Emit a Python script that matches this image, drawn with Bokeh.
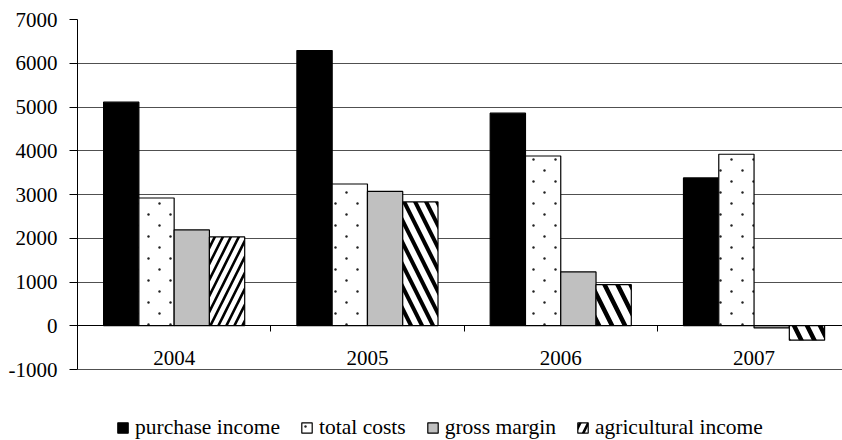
from bokeh.plotting import figure
from bokeh.models import (Range1d, FixedTicker, LinearAxis, Legend, LegendItem,
                          ColumnDataSource, ImageURLTexture)
from bokeh.core.properties import value
from bokeh.transform import dodge
from bokeh.embed import file_html
from bokeh.resources import INLINE

# ---- data ----
years = ["2004", "2005", "2006", "2007"]
purchase_income = [5110, 6290, 4860, 3380]
total_costs = [2920, 3240, 3880, 3920]
gross_margin = [2190, 3070, 1230, -50]
agricultural_income = [2030, 2830, 940, -330]
series_names = ["purchase income", "total costs", "gross margin", "agricultural income"]
y_ticks = [-1000, 0, 1000, 2000, 3000, 4000, 5000, 6000, 7000]

# ---- styles ----
FONT = "Liberation Serif"
agri_hatch = ["/", "\\", "\\", "\\"]
agri_scale = [16, 22, 26, 26]
agri_weight = [2.6, 4, 4.5, 4.5]

W, H = 842, 440
LEFT, TOP = 77, 19
PX_PER_UNIT = 350 / (y_ticks[-1] - y_ticks[0])
CAT_PX = 193.3
x_end = (W - LEFT) / CAT_PX
y_start = y_ticks[-1] - (H - TOP) / PX_PER_UNIT

centers = [i + 0.5 for i in range(len(years))]
src = ColumnDataSource(dict(
    x=centers, pi=purchase_income, tc=total_costs, gm=gross_margin, ai=agricultural_income,
    hp=agri_hatch, hs=agri_scale, hw=agri_weight,
))

p = figure(width=W, height=H, output_backend="svg", toolbar_location=None,
           x_range=Range1d(0, x_end), y_range=Range1d(y_start, y_ticks[-1]),
           min_border_left=LEFT, min_border_right=0, min_border_top=TOP,
           min_border_bottom=0)
p.outline_line_color = None
p.background_fill_color = "white"
p.border_fill_color = "white"
p.xgrid.visible = False
p.ygrid.ticker = FixedTicker(ticks=y_ticks)
p.ygrid.grid_line_color = "#505050"
p.ygrid.grid_line_width = 1

ya = p.yaxis[0]
ya.ticker = FixedTicker(ticks=y_ticks)
ya.bounds = (y_ticks[0], y_ticks[-1])
ya.major_label_overrides = {t: str(t) for t in y_ticks}
ya.axis_line_color = "black"
ya.major_tick_line_color = "black"
ya.major_tick_out = 8
ya.major_tick_in = 0
ya.minor_tick_line_color = None
ya.major_label_standoff = 12
ya.major_label_text_font = FONT
ya.major_label_text_font_size = "21px"
ya.major_label_text_color = "black"

# default x axis -> category labels, placed at zero
xa = p.xaxis[0]
xa.ticker = FixedTicker(ticks=centers)
xa.major_label_overrides = {c: y for c, y in zip(centers, years)}
xa.fixed_location = 0
xa.axis_line_color = None
xa.major_tick_out = 0
xa.major_tick_in = 0
xa.minor_tick_line_color = None
xa.major_label_standoff = 25
xa.major_label_text_font = FONT
xa.major_label_text_font_size = "21px"
xa.major_label_text_color = "black"

dot_tile = ("data:image/svg+xml;utf8,<svg xmlns='http://www.w3.org/2000/svg' width='22' height='22'>"
            "<rect width='22' height='22' fill='white'/>"
            "<circle cx='5.5' cy='5.5' r='1.2' fill='%23222222'/>"
            "<circle cx='16.5' cy='16.5' r='1.2' fill='%23222222'/></svg>")
dots = ImageURLTexture(url=dot_tile, repetition="repeat")

BW = 0.1825
offs = [-1.5 * BW, -0.5 * BW, 0.5 * BW, 1.5 * BW]

r1 = p.vbar(x=dodge("x", offs[0], range=p.x_range), top="pi", bottom=0, width=BW, source=src,
            fill_color="black", line_color="black", line_width=1.2)
r2 = p.vbar(x=dodge("x", offs[1], range=p.x_range), top="tc", bottom=0, width=BW, source=src,
            fill_color="white", line_color="black", line_width=1.2,
            hatch_pattern=value("dots"), hatch_extra={"dots": dots},
            hatch_color="#222222", hatch_scale=22, hatch_weight=1.1)
r3 = p.vbar(x=dodge("x", offs[2], range=p.x_range), top="gm", bottom=0, width=BW, source=src,
            fill_color="#c0c0c0", line_color="black", line_width=1.2)
r4 = p.vbar(x=dodge("x", offs[3], range=p.x_range), top="ai", bottom=0, width=BW, source=src,
            fill_color="white", line_color="black", line_width=1.2,
            hatch_pattern="hp", hatch_color="black", hatch_scale="hs", hatch_weight="hw")

bounds = [i for i in range(1, len(years))]
tick_axis = LinearAxis(ticker=FixedTicker(ticks=bounds), fixed_location=0,
                       axis_line_color="black", major_tick_line_color="black",
                       major_tick_out=6, major_tick_in=0, minor_tick_line_color=None,
                       major_label_overrides={b: "" for b in bounds})
p.add_layout(tick_axis, "below")

legend = Legend(items=[LegendItem(label=n, renderers=[r], index=0)
                       for n, r in zip(series_names, [r1, r2, r3, r4])],
                orientation="horizontal", location=(39, 0), padding=0, margin=0,
                spacing=20, label_standoff=6, glyph_width=13, glyph_height=13,
                label_height=20, label_text_font=FONT, label_text_font_size="21.5px",
                label_text_color="black",
                border_line_color=None, background_fill_alpha=0)
p.add_layout(legend, "center")

open("out.html", "w").write(file_html(p, INLINE))
